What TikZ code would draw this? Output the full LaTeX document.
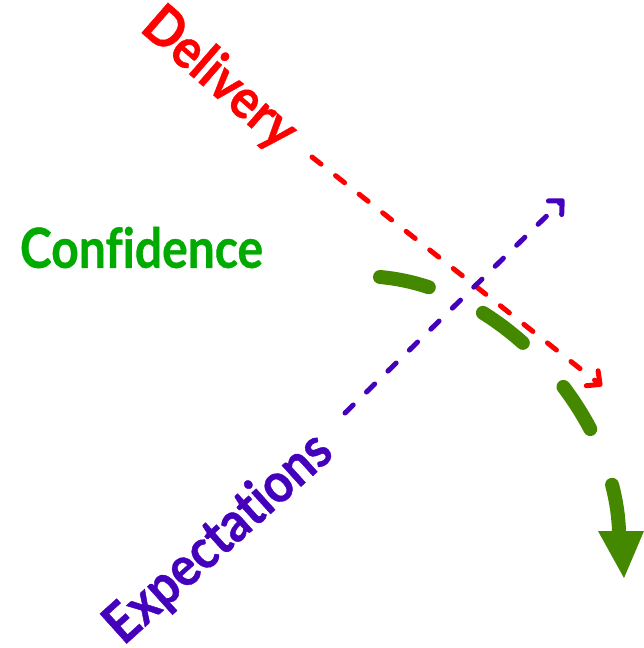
\documentclass[tikz,border=0pt]{standalone}
\usepackage{fontspec}
\setmainfont{Lato}[Ligatures=NoCommon, BoldFeatures={FakeBold=0.8}]
\usetikzlibrary{arrows.meta}
\definecolor{delred}{RGB}{255,0,0}
\definecolor{expblue}{RGB}{68,0,187}
\definecolor{confgreen}{RGB}{0,170,0}
\definecolor{curvegreen}{RGB}{68,136,0}
\begin{document}
\begin{tikzpicture}[x=1pt,y=-1pt,
  lbl/.style={inner sep=0pt, font=\bfseries},
  thindash/.style={line width=5pt, line cap=round, dash pattern=on 11.5pt off 18.5pt},
  openhead/.style={-{Straight Barb[length=10pt,width=19pt,round]}}
]
\useasboundingbox (0,0) rectangle (644,648);
\coordinate (g0) at (380,277);
\coordinate (g1) at (619,531);
\draw[curvegreen, line width=14pt, line cap=round, dash pattern=on 50pt off 60pt] (g0) .. controls (505,288) and (615,415) .. (g1);
\fill[curvegreen] (598,531) -- (644,531) -- (624,578) -- cycle;
\node[lbl, text=delred, rotate=-41] (delivery) at (219,79) {\resizebox{185pt}{41pt}{Delivery}};
\node[lbl, text=confgreen] (confidence) at (141.5,247.5) {\resizebox{243pt}{41pt}{Confidence}};
\node[lbl, text=expblue, rotate=42] (expectations) at (219,539) {\resizebox{285pt}{41pt}{Expectations}};
\coordinate (r0) at (312,157);
\coordinate (r1) at (602,386);
\coordinate (b0) at (345,413);
\coordinate (b1) at (564,199);
\draw[thindash, delred, openhead] (r0) -- (r1);
\draw[thindash, expblue, openhead] (b0) -- (b1);
\end{tikzpicture}
\end{document}
